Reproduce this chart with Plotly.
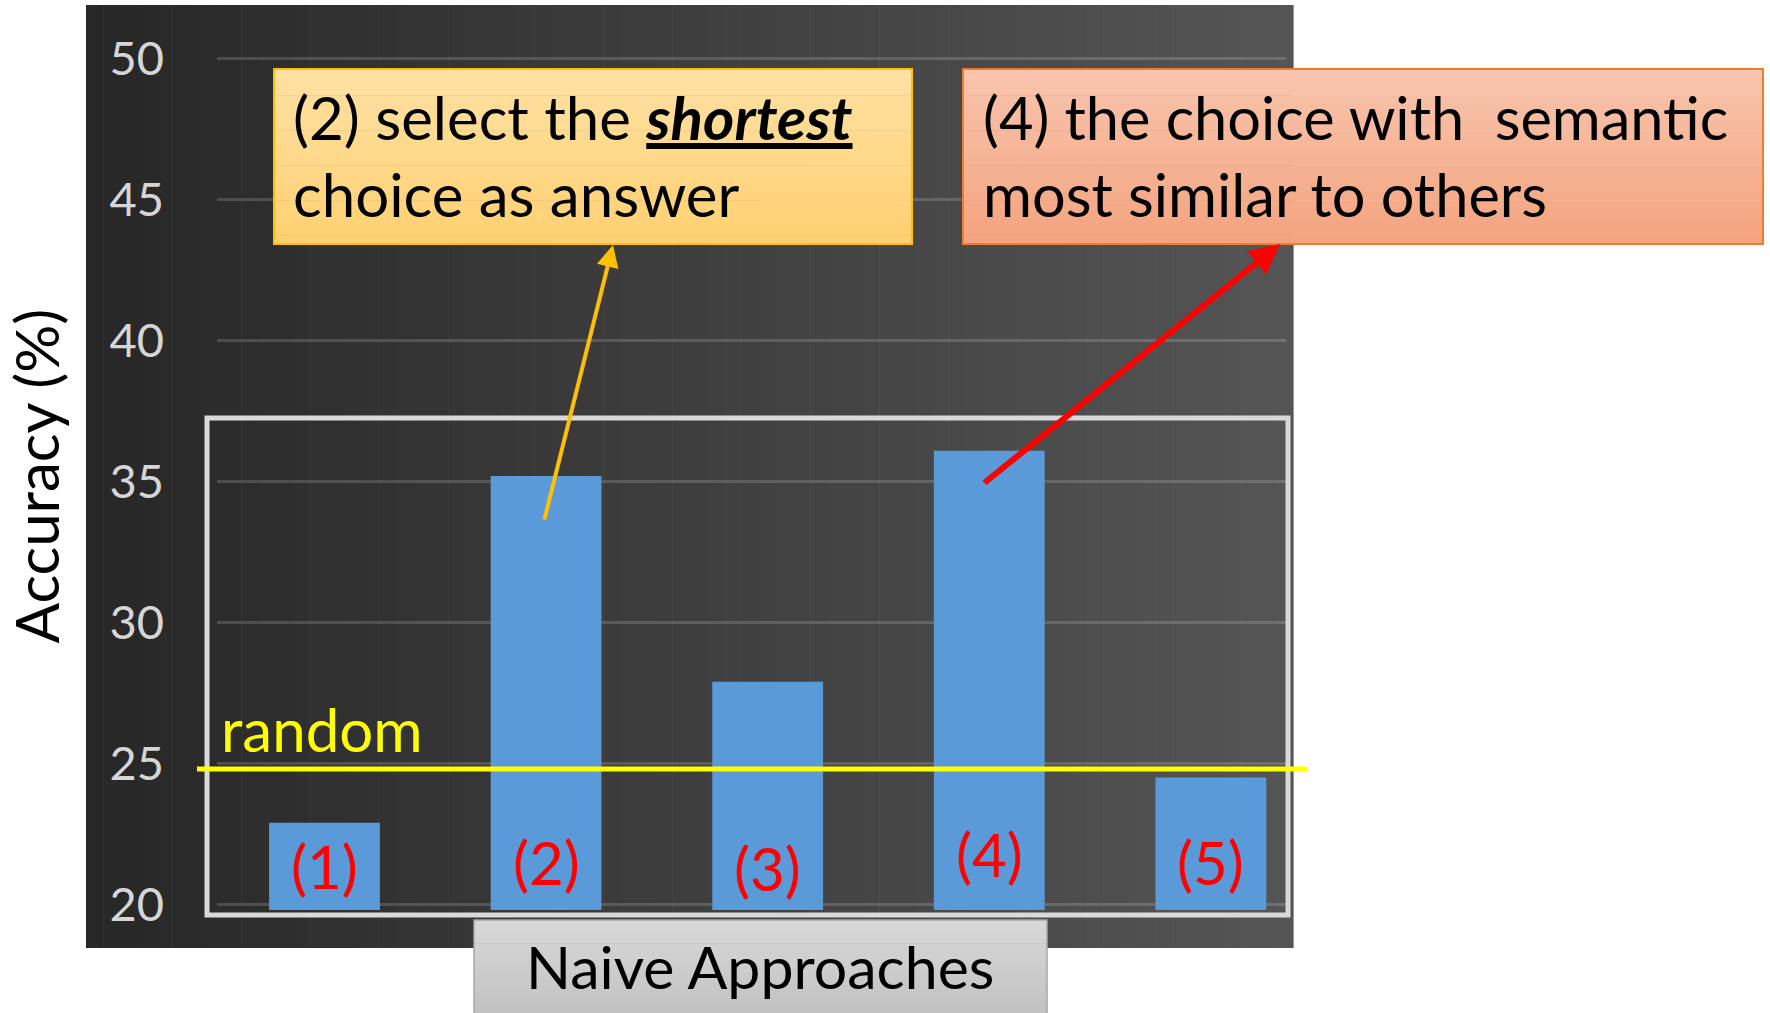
import plotly.graph_objects as go

# ---- data ----
approaches = ["(1)", "(2)", "(3)", "(4)", "(5)"]
accuracy = [22.9, 35.2, 27.9, 36.1, 24.5]
random_level = 24.8
y_ticks = [20, 25, 30, 35, 40, 45, 50]
label_y = [21.35, 21.5, 21.28, 21.78, 21.5]

note_shortest = ["(2) select the <b><i><u>shortest</u></i></b>", "choice as answer"]
note_semantic = ["(4) the choice with\u00a0 semantic", "most similar to others"]

FONT = "Lato"
W_PX, H_PX = 1770, 1013
L, R, T, B = 217, 1286, 42, 910   # plot area in pixels


def px(x):
    return (x - L) / (R - L)


def py(y):
    return (B - y) / (B - T)


def lerp_color(c0, c1, t):
    a = [int(c0[i:i + 2], 16) for i in (1, 3, 5)]
    b = [int(c1[i:i + 2], 16) for i in (1, 3, 5)]
    return "#" + "".join(f"{round(a[k] + (b[k] - a[k]) * t):02x}" for k in range(3))


shapes = []


def gradient_rect(x0, y0, x1, y1, c0, c1, steps, horizontal, layer="below"):
    for i in range(steps):
        t = i / (steps - 1)
        col = lerp_color(c0, c1, t)
        if horizontal:
            a = x0 + (x1 - x0) * i / steps
            b = x0 + (x1 - x0) * (i + 1) / steps + 0.6
            shapes.append(dict(type="rect", xref="paper", yref="paper", layer=layer,
                               x0=px(a), x1=px(b), y0=py(y1), y1=py(y0),
                               fillcolor=col, line=dict(width=0)))
        else:
            a = y0 + (y1 - y0) * i / steps
            b = y0 + (y1 - y0) * (i + 1) / steps + 0.6
            shapes.append(dict(type="rect", xref="paper", yref="paper", layer=layer,
                               x0=px(x0), x1=px(x1), y0=py(b), y1=py(a),
                               fillcolor=col, line=dict(width=0)))


# dark chart background
gradient_rect(86, 5, 1293, 948, "#272727", "#555555", 70, True)

fig = go.Figure()
fig.add_trace(go.Bar(
    x=approaches, y=accuracy, width=0.5,
    marker=dict(color="#5a9ad8", line=dict(width=0)),
    hoverinfo="skip",
))

# inner frame around the bars
shapes.append(dict(type="rect", xref="paper", yref="paper", layer="above",
                   x0=px(207), x1=px(1288), y0=py(915), y1=py(418),
                   line=dict(color="#d9d9d9", width=5), fillcolor="rgba(0,0,0,0)"))
# random-guess baseline
shapes.append(dict(type="line", xref="paper", yref="y", layer="above",
                   x0=px(197), x1=px(1307), y0=random_level, y1=random_level,
                   line=dict(color="#ffff00", width=5)))

# x-axis title box
gradient_rect(474, 920, 1047, 1013, "#d8d8d8", "#c2c2c2", 20, False, layer="above")
shapes.append(dict(type="rect", xref="paper", yref="paper", layer="above",
                   x0=px(474), x1=px(1047), y0=py(1014), y1=py(920),
                   line=dict(color="#a6a6a6", width=1.5), fillcolor="rgba(0,0,0,0)"))

# note boxes
gradient_rect(274, 69, 912, 244, "#ffe1a2", "#ffd073", 20, False, layer="above")
shapes.append(dict(type="rect", xref="paper", yref="paper", layer="above",
                   x0=px(274), x1=px(912), y0=py(244), y1=py(69),
                   line=dict(color="#ffc000", width=2), fillcolor="rgba(0,0,0,0)"))
gradient_rect(963, 69, 1763, 244, "#f8c4ad", "#f4a47f", 20, False, layer="above")
shapes.append(dict(type="rect", xref="paper", yref="paper", layer="above",
                   x0=px(963), x1=px(1763), y0=py(244), y1=py(69),
                   line=dict(color="#ed7d31", width=2), fillcolor="rgba(0,0,0,0)"))

annotations = []
# labels inside bars
for name, ly in zip(approaches, label_y):
    annotations.append(dict(x=name, y=ly, xref="x", yref="y", text=name, showarrow=False,
                            xanchor="center", yanchor="middle",
                            font=dict(family=FONT, size=60, color="#ff0000")))

annotations.append(dict(x=px(219), y=py(729), xref="paper", yref="paper", text="random",
                        showarrow=False, xanchor="left", yanchor="middle",
                        font=dict(family=FONT, size=60, color="#ffff00")))

annotations.append(dict(x=px(760), y=py(967), xref="paper", yref="paper",
                        text="Naive Approaches", showarrow=False,
                        xanchor="center", yanchor="middle",
                        font=dict(family=FONT, size=59, color="#000000")))

for lines, x0, size in ((note_shortest, 291, 60), (note_semantic, 981, 59.5)):
    for txt, yc in zip(lines, (117, 194)):
        annotations.append(dict(x=px(x0), y=py(yc), xref="paper", yref="paper", text=txt,
                                showarrow=False, xanchor="left", yanchor="middle",
                                font=dict(family=FONT, size=size, color="#000000")))

# arrows from the bars to the notes
annotations.append(dict(x=px(613), y=py(245), xref="paper", yref="paper", text="",
                        showarrow=True, axref="pixel", ayref="pixel",
                        ax=544 - 613, ay=521 - 245, arrowhead=2, arrowsize=1.1,
                        arrowwidth=4, arrowcolor="#ffc000", standoff=0))
annotations.append(dict(x=px(1280), y=py(244), xref="paper", yref="paper", text="",
                        showarrow=True, axref="pixel", ayref="pixel",
                        ax=983 - 1280, ay=484 - 244, arrowhead=2, arrowsize=1.0,
                        arrowwidth=6, arrowcolor="#ff0000", standoff=0))

fig.update_layout(
    width=W_PX, height=H_PX,
    margin=dict(l=L, r=W_PX - R, t=T, b=H_PX - B, pad=0),
    paper_bgcolor="#ffffff", plot_bgcolor="rgba(0,0,0,0)",
    showlegend=False, bargap=0.5,
    shapes=shapes, annotations=annotations,
    xaxis=dict(type="category", range=[-0.485, 4.339], showticklabels=False,
               showgrid=False, zeroline=False, showline=False, ticks=""),
    yaxis=dict(range=[19.8, 50.6], tickvals=y_ticks, ticks="",
               showgrid=True, gridcolor="rgba(255,255,255,0.16)", gridwidth=2.5,
               zeroline=False, showline=False, ticklabelstandoff=52,
               tickfont=dict(family=FONT, size=47, color="#d6d6d6"),
               title=dict(text="Accuracy (%)", standoff=34,
                          font=dict(family=FONT, size=60, color="#000000"))),
)

fig.write_html("out.html")
